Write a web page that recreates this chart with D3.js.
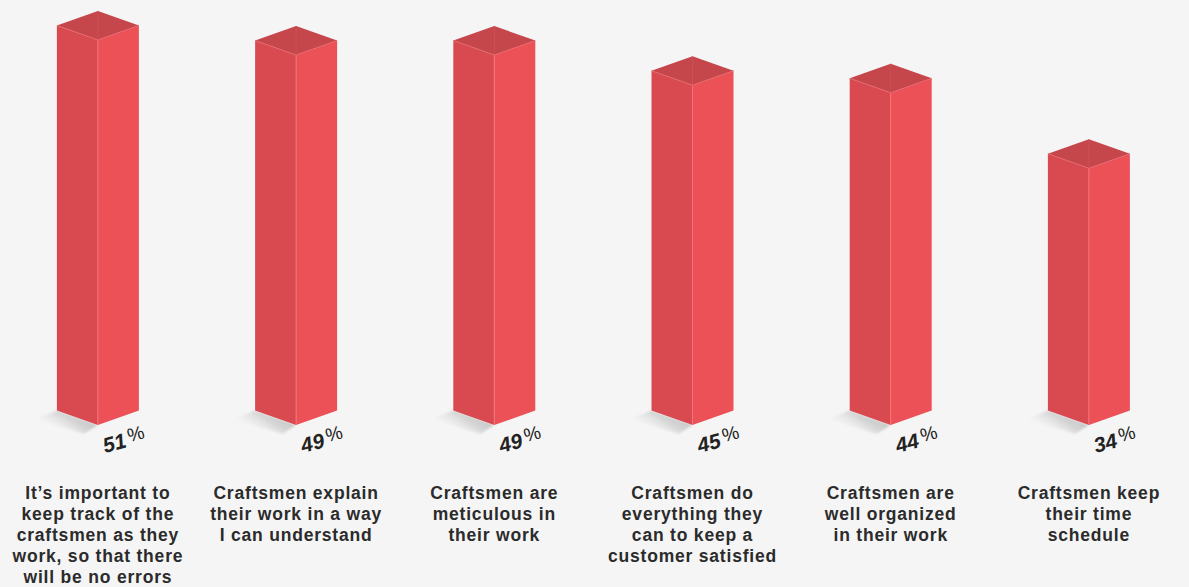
<!DOCTYPE html>
<html>
<head>
<meta charset="utf-8">
<script src="https://cdn.jsdelivr.net/npm/d3@7/dist/d3.min.js"></script>
<style>
  html, body { margin: 0; padding: 0; background: #f5f5f5; }
  svg { display: block; }
</style>
</head>
<body>
<svg id="chart" width="1189" height="587"></svg>
<script>
// Survey statements and share of respondents agreeing (%)
const categories = [
  "It’s important to|keep track of the|craftsmen as they|work, so that there|will be no errors",
  "Craftsmen explain|their work in a way|I can understand",
  "Craftsmen are|meticulous in|their work",
  "Craftsmen do|everything they|can to keep a|customer satisfied",
  "Craftsmen are|well organized|in their work",
  "Craftsmen keep|their time|schedule"
];
const values = [51, 49, 49, 45, 44, 34];
const valueLabels = ["51", "49", "49", "45", "44", "34"];

const W = 1189, H = 587;
const svg = d3.select("#chart");

const ids = d3.range(categories.length);
const x = d3.scaleBand().domain(ids).range([-1.2, 1188]).paddingInner(0).paddingOuter(0);
const y = d3.scaleLinear().domain([0, 100]).range([425, 425 - 755]);

const half = 41;   // half width of the prism (front edge to side edge)
const rise = 14.5; // vertical offset from front corner to side corners

const defs = svg.append("defs");
const grad = defs.append("linearGradient")
  .attr("id", "shadowGrad")
  .attr("x1", "1").attr("y1", "0").attr("x2", "0").attr("y2", "0.6");
grad.append("stop").attr("offset", "0").attr("stop-color", "#b4b4b4").attr("stop-opacity", 1);
grad.append("stop").attr("offset", "0.5").attr("stop-color", "#cfcfcf").attr("stop-opacity", 0.85);
grad.append("stop").attr("offset", "1").attr("stop-color", "#f5f5f5").attr("stop-opacity", 0);

const blur = defs.append("filter").attr("id", "soft").attr("x", "-20%").attr("y", "-50%").attr("width", "140%").attr("height", "200%");
blur.append("feGaussianBlur").attr("stdDeviation", 1.2);

const g = svg.append("g");

ids.forEach(i => {
  const cx = x(i) + x.bandwidth() / 2;
  const base = y(0);
  const topF = y(values[i]);
  const grp = g.append("g");

  // floor shadow, cast to the lower left
  grp.append("path")
    .attr("d", `M${cx - half},${base - rise} L${cx},${base} L${cx - 14},${base + 9} L${cx - 62},${base - 6} Z`)
    .attr("fill", "url(#shadowGrad)")
    .attr("filter", "url(#soft)");

  // left face
  grp.append("path")
    .attr("d", `M${cx - half},${topF - rise} L${cx},${topF} L${cx},${base} L${cx - half},${base - rise} Z`)
    .attr("fill", "#d94a50");
  // right face
  grp.append("path")
    .attr("d", `M${cx},${topF} L${cx + half},${topF - rise} L${cx + half},${base - rise} L${cx},${base} Z`)
    .attr("fill", "#ec5157");
  // top face
  grp.append("path")
    .attr("d", `M${cx - half},${topF - rise} L${cx},${topF - 2 * rise} L${cx + half},${topF - rise} L${cx},${topF} Z`)
    .attr("fill", "#c5464b");
  // highlight edges
  grp.append("path")
    .attr("d", `M${cx},${topF} L${cx},${base}`)
    .attr("stroke", "#f27378").attr("stroke-width", 1).attr("fill", "none");
  grp.append("path")
    .attr("d", `M${cx - half},${topF - rise} L${cx},${topF} L${cx + half},${topF - rise}`)
    .attr("stroke", "#e86a6f").attr("stroke-width", 0.8).attr("fill", "none");
  grp.append("path")
    .attr("d", `M${cx},${topF - 2 * rise} L${cx},${topF}`)
    .attr("stroke", "#cf5257").attr("stroke-width", 0.8).attr("fill", "none");

  // value label, tilted along the floor
  const t = grp.append("text")
    .attr("transform", `translate(${cx + 7},${base + 28}) rotate(-15)`)
    .attr("font-family", "'Liberation Sans', Arial, sans-serif")
    .attr("font-weight", "bold")
    .attr("font-style", "italic")
    .attr("fill", "#222");
  t.append("tspan").attr("font-size", 21).text(valueLabels[i]);
  t.append("tspan").attr("font-size", 19).attr("dx", 3).attr("dy", -4).attr("font-style", "normal").attr("font-weight", "normal").text("%");

  // category label
  const lines = categories[i].split("|");
  const lab = grp.append("text")
    .attr("text-anchor", "middle")
    .attr("font-family", "'Liberation Sans', Arial, sans-serif")
    .attr("font-weight", "bold")
    .attr("font-size", 17.5)
    .attr("letter-spacing", 0.8)
    .attr("fill", "#2b2b2b");
  lines.forEach((ln, k) => {
    lab.append("tspan").attr("x", cx).attr("y", 499 + k * 21).text(ln);
  });
});
</script>
</body>
</html>
